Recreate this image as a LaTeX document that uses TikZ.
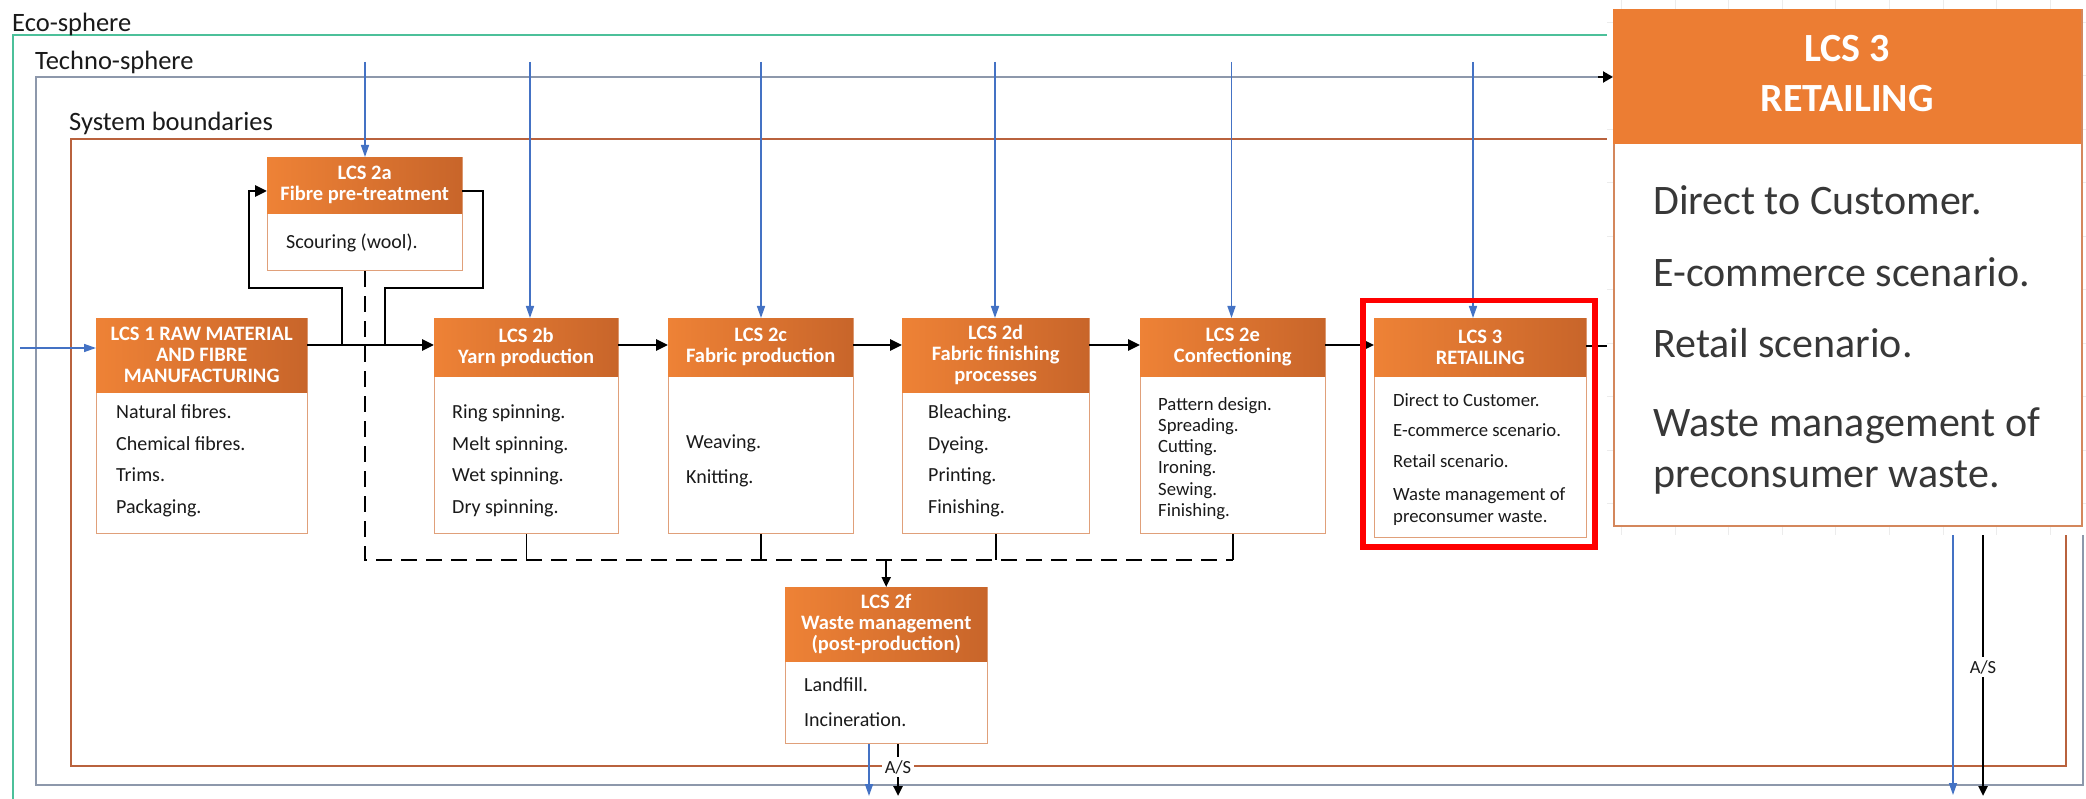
\documentclass[tikz,border=0pt]{standalone}
\usepackage{fontspec}
\setmainfont{Carlito}
\usetikzlibrary{arrows.meta}
\definecolor{ecoC}{HTML}{4CC09A}
\definecolor{techC}{HTML}{8D98AB}
\definecolor{sysC}{HTML}{B9623D}
\definecolor{inC}{HTML}{4472C4}
\definecolor{hdrL}{HTML}{EE8236}
\definecolor{hdrR}{HTML}{C8652A}
\definecolor{bodyC}{HTML}{E0A07A}
\definecolor{insetH}{HTML}{EC7D33}
\definecolor{insetB}{HTML}{D4875C}
\definecolor{gridC}{HTML}{ECECEC}
\definecolor{txtC}{HTML}{1A1A1A}
\definecolor{itxtC}{HTML}{383838}

\begin{document}
\begin{tikzpicture}[x=1pt,y=-1pt,
  frame/.style={line width=2pt},
  hdr/.style={anchor=north west, inner sep=0pt, draw=none, left color=hdrL, right color=hdrR,
    text=white, font=\bfseries\fontsize{20.5}{21}\selectfont, align=center},
  bodybox/.style={anchor=north west, inner sep=0pt, draw=bodyC, line width=1.3pt, fill=white},
  btxt/.style={anchor=base west, inner sep=0pt, text=txtC, font=\fontsize{20}{24}\selectfont},
  stxt/.style={anchor=base west, inner sep=0pt, text=txtC, font=\fontsize{18.7}{22}\selectfont},
  itxt/.style={anchor=base west, inner sep=0pt, text=itxtC, font=\fontsize{42}{48}\selectfont},
  flow/.style={line width=2.8pt, -{Triangle[length=12pt,width=11pt]}},
  link/.style={line width=2.8pt},
  inflow/.style={draw=inC, line width=1.5pt, -{Triangle[length=12pt,width=8pt]}},
  waste/.style={line width=2pt, dash pattern=on 16pt off 9pt},
  tick/.style={line width=1.6pt},
  bigtxt/.style={anchor=base west, inner sep=0pt, text=txtC, font=\fontsize{26.5}{30}\selectfont},
  aslbl/.style={fill=white, inner sep=3pt, text=txtC, font=\fontsize{18.5}{20}\selectfont},
]
\useasboundingbox (0,0) rectangle (2086,799);
\fill[white] (0,0) rectangle (2086,799);

% nested boundaries
\draw[ecoC, frame] (13,799) -- (13,35) -- (1607,35);
\draw[techC, frame] (36,77) rectangle (2083,785);
\draw[sysC, frame] (70.5,139.5) rectangle (2066,766);
\node[bigtxt] (leco) at (12,31.7) {Eco-sphere};
\node[bigtxt] (ltech) at (35,70) {Techno-sphere};
\node[bigtxt] (lsys) at (69,131) {System boundaries};

% life-cycle stage boxes
\node[bodybox, minimum width=211pt, minimum height=215pt] (b1) at (96,318) {};
\node[hdr, minimum width=211pt, minimum height=74pt] (h1) at (96,318) {LCS 1 RAW MATERIAL\\AND FIBRE\\MANUFACTURING};
\foreach \t [count=\i from 0] in {Natural fibres.,Chemical fibres.,Trims.,Packaging.}
  \node[btxt] (t1-\i) at (116,{418.3+\i*31.7}) {\t};

\node[bodybox, minimum width=195pt, minimum height=113pt] (b2a) at (267,157) {};
\node[hdr, minimum width=195pt, minimum height=56pt] (h2a) at (267,157) {LCS 2a\\Fibre pre-treatment};
\node[btxt] (t2a) at (286,248.3) {Scouring (wool).};

\node[bodybox, minimum width=184pt, minimum height=215pt] (b2b) at (434,318) {};
\node[hdr, minimum width=184pt, minimum height=58pt] (h2b) at (434,318) {LCS 2b\\Yarn production};
\foreach \t [count=\i from 0] in {Ring spinning.,Melt spinning.,Wet spinning.,Dry spinning.}
  \node[btxt] (t2b-\i) at (452,{418.3+\i*31.7}) {\t};

\node[bodybox, minimum width=185pt, minimum height=215pt] (b2c) at (668,318) {};
\node[hdr, minimum width=185pt, minimum height=58pt] (h2c) at (668,318) {LCS 2c\\Fabric production};
\foreach \t [count=\i from 0] in {Weaving.,Knitting.}
  \node[btxt] (t2c-\i) at (686,{448.3+\i*35}) {\t};

\node[bodybox, minimum width=187pt, minimum height=215pt] (b2d) at (902,318) {};
\node[hdr, minimum width=187pt, minimum height=74pt] (h2d) at (902,318) {LCS 2d\\Fabric finishing\\processes};
\foreach \t [count=\i from 0] in {Bleaching.,Dyeing.,Printing.,Finishing.}
  \node[btxt] (t2d-\i) at (928,{418.3+\i*31.7}) {\t};

\node[bodybox, minimum width=185pt, minimum height=215pt] (b2e) at (1140,318) {};
\node[hdr, minimum width=185pt, minimum height=58pt] (h2e) at (1140,318) {LCS 2e\\Confectioning};
\foreach \t [count=\i from 0] in {Pattern design.,Spreading.,Cutting.,Ironing.,Sewing.,Finishing.}
  \node[stxt] (t2e-\i) at (1158,{410+\i*21.3}) {\t};

\node[bodybox, minimum width=212pt, minimum height=219pt] (b3) at (1374,318) {};
\node[hdr, minimum width=212pt, minimum height=58pt] (h3) at (1374,318) {LCS 3\\RETAILING};
\node[stxt] (t3-0) at (1393,406.7) {Direct to Customer.};
\node[stxt] (t3-1) at (1393,436.7) {E-commerce scenario.};
\node[stxt] (t3-2) at (1393,467.3) {Retail scenario.};
\node[stxt] (t3-3) at (1393,500.7) {Waste management of};
\node[stxt] (t3-4) at (1393,522.3) {preconsumer waste.};

\node[bodybox, minimum width=202pt, minimum height=156pt] (b2f) at (785,587) {};
\node[hdr, minimum width=202pt, minimum height=74pt] (h2f) at (785,587) {LCS 2f\\Waste management\\(post-production)};
\node[btxt] (t2f-0) at (804,691.7) {Landfill.};
\node[btxt] (t2f-1) at (804,726.7) {Incineration.};

% main product flow
\coordinate (fy) at (0,345);
\coordinate (j1) at (342,345);
\coordinate (j2) at (385,345);
\draw[flow] (h1.east |- fy) -- (h2b.west |- fy);
\draw[flow] (h2b.east |- fy) -- (h2c.west |- fy);
\draw[flow] (h2c.east |- fy) -- (h2d.west |- fy);
\draw[flow] (h2d.east |- fy) -- (h2e.west |- fy);
\draw[flow] (h2e.east |- fy) -- (h3.west |- fy);
\coordinate (cut) at (1610,346);
\draw[link] (h3.east |- cut) -- (cut);

% optional pre-treatment loop
\coordinate (ly) at (0,191);
\draw[flow] (j1) |- (249,288) |- (h2a.west |- ly);
\draw[link] (h2a.east |- ly) -| (483,288) -| (j2);

% production waste collection
\coordinate (wy) at (0,560);
\draw[waste] (b2a.south) -- (b2a.south |- wy) -- (b2e.south |- wy);
\draw[tick] (b2b.south) -- (b2b.south |- wy);
\draw[tick] (b2c.south) -- (b2c.south |- wy);
\draw[tick] (b2d.south) -- (b2d.south |- wy);
\draw[tick] (b2e.south) -- (b2e.south |- wy);
\draw[line width=2pt, -{Triangle[length=10pt,width=9pt]}] (h2f.north |- wy) -- (h2f.north);

% resource inputs
\coordinate (s1) at (20,348);
\draw[inflow] (s1) -- (s1 -| b1.west);
\foreach \nm/\xx in {2a/365,2b/530,2c/761,2d/995,2e/1231.5,3/1473} {
  \coordinate (s\nm) at (\xx,62);
  \draw[inflow] (s\nm) -- (s\nm |- h\nm.north);
}

% outputs leaving the system
\coordinate (o1) at (869,796);
\draw[inflow] (o1 |- b2f.south) -- (o1);
\node[aslbl] (as1) at (898,767) {A/S};
\coordinate (o2) at (898,796);
\draw[line width=2.4pt] (as1 |- b2f.south) -- (as1.north);
\draw[line width=2.4pt, -{Triangle[length=10pt,width=9pt]}] (as1.south) -- (o2);

\coordinate (r1a) at (1953,500);
\coordinate (r1b) at (1953,795);
\draw[inflow] (r1a) -- (r1b);
\node[aslbl] (as2) at (1983,667) {A/S};
\coordinate (r2a) at (1983,500);
\coordinate (r2b) at (1983,796);
\draw[line width=2.4pt] (r2a) -- (as2.north);
\draw[line width=2.4pt, -{Triangle[length=10pt,width=9pt]}] (as2.south) -- (r2b);

% enlarged view of the retailing stage
\fill[white] (1607,0) rectangle (2086,535);
\foreach \xx in {1621.4,1675,1728.6,1782.2,1835.8,1889.4,1943,1996.6,2050.2}
  \draw[gridC, line width=0.8pt] (\xx,0) -- (\xx,535);
\foreach \yy in {22,75.5,129,182.5,236,289.5,343,396.5,450,503.5}
  \draw[gridC, line width=0.8pt] (1607,\yy) -- (2086,\yy);
\node[anchor=north west, draw=insetB, line width=2pt, fill=white, inner sep=0pt,
  minimum width=468pt, minimum height=516pt] (ib) at (1613,9) {};
\node[anchor=north west, fill=insetH, inner sep=0pt, minimum width=468pt, minimum height=135pt] (ih) at (1613,9) {};
\node[text=white, inner sep=0pt, align=center, font=\bfseries\fontsize{40}{50}\selectfont] (iht) at (1847,74) {LCS 3\\RETAILING};
\node[itxt] (it0) at (1653,215) {Direct to Customer.};
\node[itxt] (it1) at (1653,287) {E-commerce scenario.};
\node[itxt] (it2) at (1653,358) {Retail scenario.};
\node[itxt] (it3) at (1653,437) {Waste management of};
\node[itxt] (it4) at (1653,487) {preconsumer waste.};
\coordinate (ta0) at (1598,77);
\draw[line width=2pt, -{Triangle[length=10pt,width=11pt]}] (ta0) -- (ib.west |- ta0);

% highlight of the retailing stage
\node[draw=red, line width=5.5pt, inner sep=0pt, anchor=north west,
  minimum width=232pt, minimum height=246pt] (hl) at (1360,298) {};
\end{tikzpicture}
\end{document}
